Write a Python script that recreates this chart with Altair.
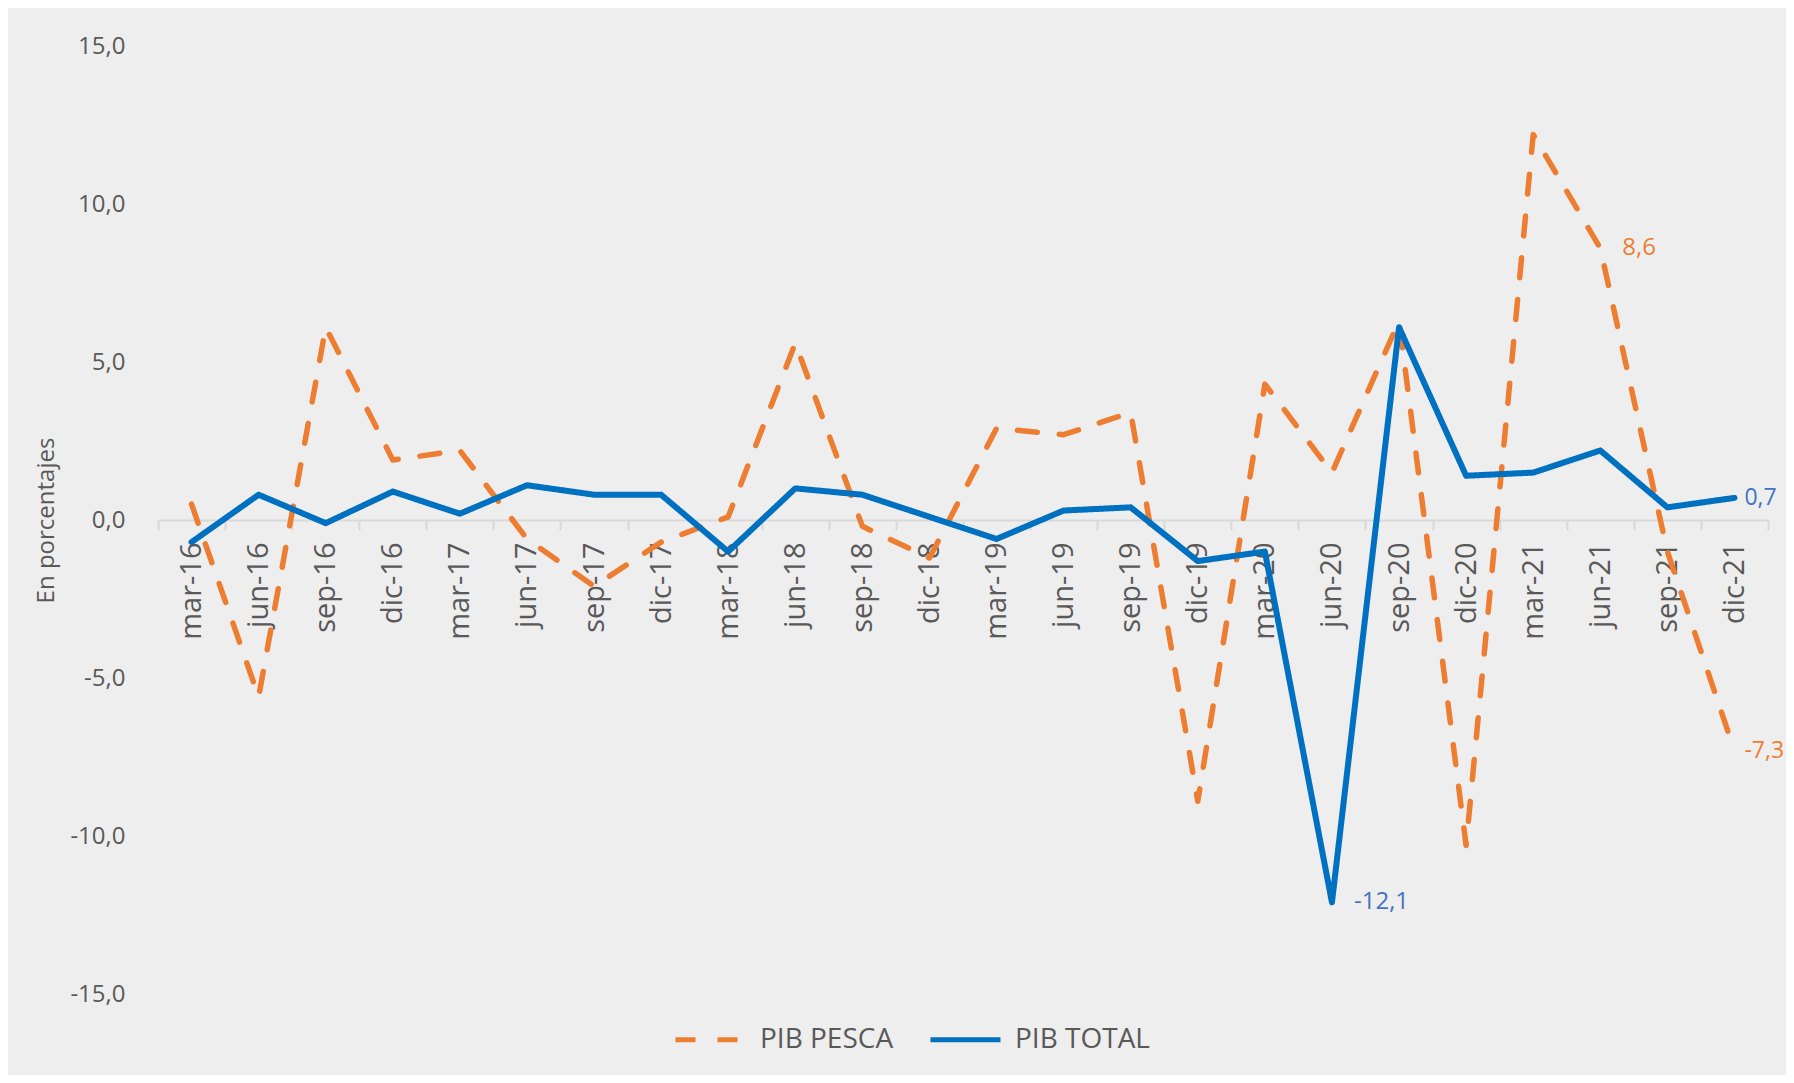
import altair as alt
import pandas as pd

periods = ["mar-16", "jun-16", "sep-16", "dic-16", "mar-17", "jun-17", "sep-17", "dic-17",
           "mar-18", "jun-18", "sep-18", "dic-18", "mar-19", "jun-19", "sep-19", "dic-19",
           "mar-20", "jun-20", "sep-20", "dic-20", "mar-21", "jun-21", "sep-21", "dic-21"]
pib_pesca = [0.5, -5.6, 6.1, 1.9, 2.2, -0.6, -2.1, -0.7, 0.1, 5.6, -0.2, -1.2,
             2.9, 2.7, 3.4, -8.9, 4.3, 1.5, 6.3, -10.3, 12.2, 8.6, -1.0, -7.3]
pib_total = [-0.7, 0.8, -0.1, 0.9, 0.2, 1.1, 0.8, 0.8, -1.0, 1.0, 0.8, 0.1,
             -0.6, 0.3, 0.4, -1.3, -1.0, -12.1, 6.1, 1.4, 1.5, 2.2, 0.4, 0.7]
series_names = ["PIB PESCA", "PIB TOTAL"]
series_colors = ["#ED7D31", "#0070C0"]
pesca_labelled = ["jun-21", "dic-21"]
total_labelled = ["jun-20", "dic-21"]
y_ticks = [-15, -10, -5, 0, 5, 10, 15]

rows = []
for p, a, b in zip(periods, pib_pesca, pib_total):
    rows.append({"periodo": p, "serie": series_names[0], "valor": a})
    rows.append({"periodo": p, "serie": series_names[1], "valor": b})
df = pd.DataFrame(rows)
df["texto"] = df["valor"].map(lambda v: f"{v:.1f}".replace(".", ","))

last = periods[-1]
lab_pesca = df[(df.serie == series_names[0]) & (df.periodo.isin(pesca_labelled))]
lab_total = df[(df.serie == series_names[1]) & (df.periodo.isin(total_labelled))]

W, H = 1610, 948
FONT = "Open Sans"
GREY = "#595959"

x_enc = alt.X(
    "periodo:N", sort=periods, bandPosition=0.5,
    scale=alt.Scale(type="band", domain=periods, paddingInner=0, paddingOuter=0),
    axis=alt.Axis(title=None, orient="bottom", offset=-H / 2, labelAngle=270,
                  labelFont=FONT, labelFontSize=29, labelColor=GREY,
                  domainColor="#D9D9D9", domainWidth=2, tickColor="#D9D9D9",
                  tickWidth=2, tickSize=10, tickBand="extent", labelPadding=12,
                  grid=False, labelOverlap=False),
)
y_enc = alt.Y(
    "valor:Q",
    scale=alt.Scale(domain=[-15, 15], nice=False, zero=False),
    axis=alt.Axis(title="En porcentajes", values=y_ticks,
                  labelExpr="replace(replace(format(datum.value, '.1f'), '.', ','), '\u2212', '-')",
                  domain=False, ticks=False, grid=False, labelPadding=33,
                  labelFont=FONT, labelFontSize=24, labelColor=GREY,
                  titleFont=FONT, titleFontSize=24, titleFontWeight="normal",
                  titleColor=GREY, titleX=-112, titleY=H / 2, titleAngle=270,
                  titleAlign="center", titleBaseline="middle"),
)

legend = alt.Legend(title=None, orient="none", legendX=515, legendY=956,
                    direction="horizontal", labelFont=FONT, labelFontSize=28,
                    labelColor=GREY, symbolType="stroke", symbolSize=4900,
                    symbolStrokeWidth=5, labelOffset=12, columnPadding=26, padding=0)
color_enc = alt.Color("serie:N", scale=alt.Scale(domain=series_names, range=series_colors),
                      legend=legend)
dash_enc = alt.StrokeDash("serie:N",
                          scale=alt.Scale(domain=series_names, range=[[20, 22], [1, 0]]),
                          legend=legend)

base = alt.Chart(df).encode(x=x_enc, y=y_enc, color=color_enc, strokeDash=dash_enc)

line_pesca = base.transform_filter(alt.datum.serie == series_names[0]).mark_line(
    strokeWidth=5.5, strokeCap="round", strokeJoin="round")
line_total = base.transform_filter(alt.datum.serie == series_names[1]).mark_line(
    strokeWidth=6, strokeCap="round", strokeJoin="round")


def labels(data, color):
    x_lab = alt.X("periodo:N", sort=periods, bandPosition=0.5)
    mid = alt.Chart(data[data.periodo != last]).mark_text(
        align="left", baseline="middle", dx=22, font=FONT, fontSize=24, color=color
    ).encode(x=x_lab, y="valor:Q", text="texto:N")
    end = alt.Chart(data[data.periodo == last]).mark_text(
        align="left", baseline="middle", dx=10, font=FONT, fontSize=23, color=color
    ).encode(x=x_lab, y="valor:Q", text="texto:N")
    return [mid, end]


chart = alt.layer(
    line_pesca, line_total,
    *labels(lab_pesca, "#ED7D31"), *labels(lab_total, "#4472C4"),
).properties(
    width=W, height=H,
    padding={"left": 150, "top": 38, "right": 18, "bottom": 81},
    autosize=alt.AutoSizeParams(type="none"),
    background="#EEEEEE",
).configure_view(stroke=None)

chart.save("out.html", embed_options={"renderer": "svg", "actions": False})
